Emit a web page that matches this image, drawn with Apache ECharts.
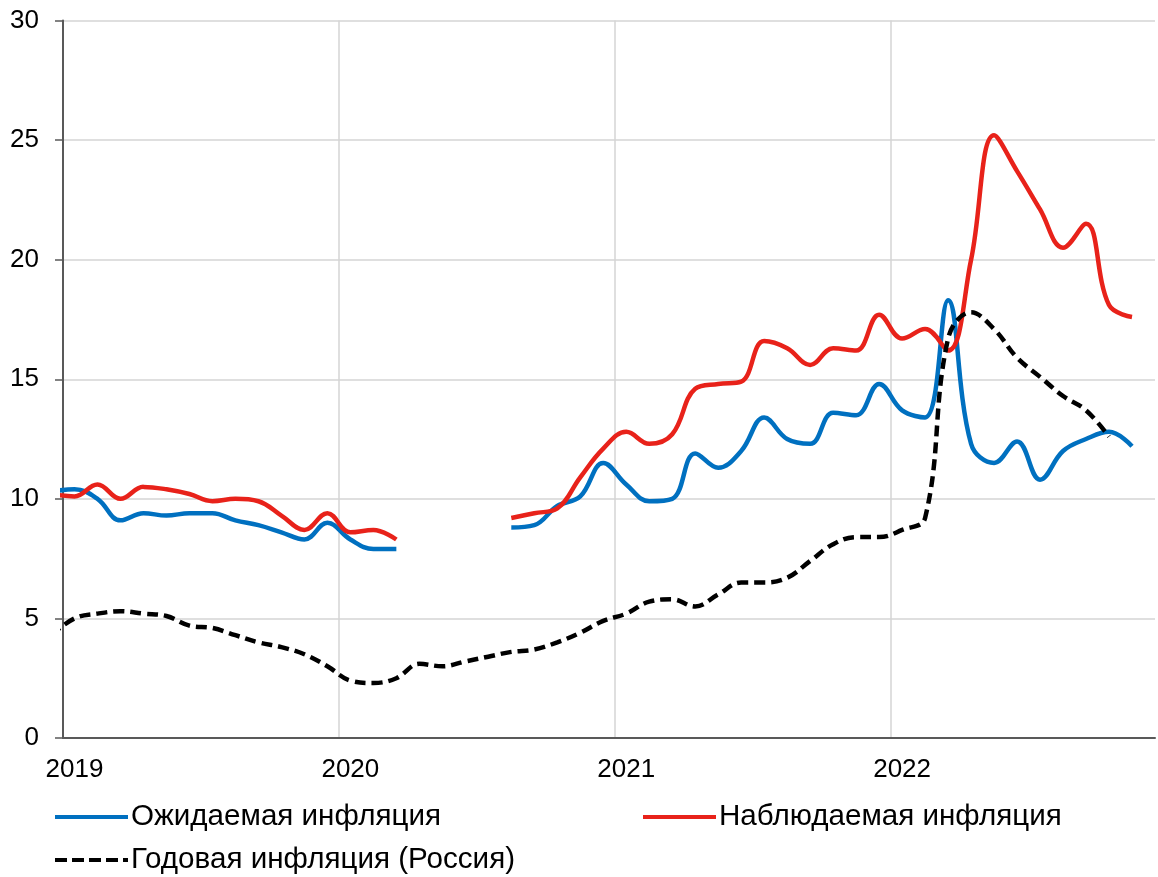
<!DOCTYPE html>
<html lang="ru">
<head>
    <meta charset="UTF-8">
    <script src="https://cdn.jsdelivr.net/npm/echarts@6/dist/echarts.min.js"></script>
    <title>Инфляция</title>
    <style>
        html, body { margin: 0; padding: 0; background: #fff; }
        #main { width: 1158px; height: 877px; }
    </style>
</head>
<body>
<div id="main"></div>

<script>
    // месяцы: дек 2018 - ноя 2022 (точки в середине месяца)
    var months = [
        '2018-12',
        '2019-01', '2019-02', '2019-03', '2019-04', '2019-05', '2019-06',
        '2019-07', '2019-08', '2019-09', '2019-10', '2019-11', '2019-12',
        '2020-01', '2020-02', '2020-03', '2020-04', '2020-05', '2020-06',
        '2020-07', '2020-08', '2020-09', '2020-10', '2020-11', '2020-12',
        '2021-01', '2021-02', '2021-03', '2021-04', '2021-05', '2021-06',
        '2021-07', '2021-08', '2021-09', '2021-10', '2021-11', '2021-12',
        '2022-01', '2022-02', '2022-03', '2022-04', '2022-05', '2022-06',
        '2022-07', '2022-08', '2022-09', '2022-10', '2022-11'
    ];

    var expected = [
        10.3,
        10.4, 10.0, 9.1, 9.4, 9.3, 9.4,
        9.4, 9.1, 8.9, 8.6, 8.3, 9.0,
        8.3, 7.9, 7.9, null, null, null,
        null, 8.8, 8.9, 9.7, 10.1, 11.5,
        10.6, 9.9, 10.0, 11.9, 11.3, 12.0,
        13.4, 12.5, 12.3, 13.6, 13.5, 14.8,
        13.7, 13.4, 18.3, 12.3, 11.5, 12.4,
        10.8, 12.0, 12.5, 12.8, 12.2
    ];

    var observed = [
        10.2,
        10.1, 10.6, 10.0, 10.5, 10.4, 10.2,
        9.9, 10.0, 9.9, 9.3, 8.7, 9.4,
        8.6, 8.7, 8.3, null, null, null,
        null, 9.2, 9.4, 9.6, 10.9, 12.1,
        12.8, 12.3, 12.7, 14.6, 14.8, 14.9,
        16.6, 16.3, 15.6, 16.3, 16.2, 17.7,
        16.7, 17.1, 16.2, 20.0, 25.2, 23.7,
        22.1, 20.5, 21.5, 18.1, 17.6
    ];

    var annual = [
        4.3,
        5.0, 5.2, 5.3, 5.2, 5.1, 4.7,
        4.6, 4.3, 4.0, 3.8, 3.5, 3.0,
        2.4, 2.3, 2.5, 3.1, 3.0, 3.2,
        3.4, 3.6, 3.7, 4.0, 4.4, 4.9,
        5.2, 5.7, 5.8, 5.5, 6.0, 6.5,
        6.5, 6.7, 7.4, 8.1, 8.4, 8.4,
        8.7, 9.2, 16.7, 17.8, 17.1, 15.9,
        15.1, 14.3, 13.7, 12.6, null
    ];

    var yearLabels = ['2019', '2020', '2021', '2022'];

    var names = ['Ожидаемая инфляция', 'Наблюдаемая инфляция', 'Годовая инфляция (Россия)'];

    // позиция месяца на оси: месяцы от янв 2019, середина месяца
    function monthPos(s) {
        var p = s.split('-');
        return (parseInt(p[0], 10) - 2019) * 12 + (parseInt(p[1], 10) - 1) + 0.5;
    }

    function toPoints(values) {
        return months.map(function (m, i) {
            return [monthPos(m), values[i]];
        });
    }

    var font = '"Liberation Sans", Arial, sans-serif';

    // значки легенды: сплошная и пунктирная линии
    var solidIcon = 'path://M0,0h73v4h-73z';
    var dashIcon = 'path://M0,0h12v4h-12zM17,0h12v4h-12zM34,0h12v4h-12zM51,0h12v4h-12zM68,0h5v4h-5z';

    function legendAt(name, icon, left, top) {
        return {
            data: [{ name: name, icon: icon }],
            left: left, top: top,
            padding: 0,
            itemWidth: 73, itemHeight: 4,
            textStyle: { fontFamily: font, fontSize: 29.6, color: '#000', padding: [0, 0, 0, -2] }
        };
    }

    var myChart = echarts.init(document.getElementById('main'));

    var option = {
        animation: false,
        backgroundColor: '#fff',
        textStyle: { fontFamily: font, color: '#000' },
        grid: {
            left: 63,
            right: 3,
            top: 20.5,
            bottom: 139
        },
        legend: [
            legendAt(names[0], solidIcon, 55, 802),
            legendAt(names[1], solidIcon, 643, 802),
            legendAt(names[2], dashIcon, 55, 845)
        ],
        xAxis: {
            type: 'value',
            min: 0,
            max: 47.5,
            interval: 12,
            axisLine: { show: true, onZero: false, lineStyle: { color: '#595959', width: 2 } },
            axisTick: { show: false },
            axisLabel: {
                fontFamily: font,
                fontSize: 26,
                color: '#000',
                margin: 19,
                padding: [0, 0, 0, 23],
                showMaxLabel: false,
                formatter: function (v) {
                    return v % 12 === 0 ? yearLabels[v / 12] : '';
                }
            },
            splitLine: {
                show: true,
                showMinLine: false,
                showMaxLine: false,
                lineStyle: { color: '#D4D4D4', width: 1.5 }
            }
        },
        yAxis: {
            type: 'value',
            min: 0,
            max: 30,
            interval: 5,
            axisLine: { show: true, lineStyle: { color: '#595959', width: 2 } },
            axisTick: { show: true, length: 8, lineStyle: { color: '#595959', width: 1.5 } },
            axisLabel: { fontFamily: font, fontSize: 26, color: '#000', margin: 24 },
            splitLine: { lineStyle: { color: '#D4D4D4', width: 1.5 } }
        },
        series: [
            {
                name: names[0],
                type: 'line',
                data: toPoints(expected),
                smooth: 0.4,
                symbol: 'none',
                connectNulls: false,
                clip: true,
                lineStyle: { color: '#0070C0', width: 4.5 },
                itemStyle: { color: '#0070C0' },
                z: 3
            },
            {
                name: names[1],
                type: 'line',
                data: toPoints(observed),
                smooth: 0.4,
                symbol: 'none',
                connectNulls: false,
                clip: true,
                lineStyle: { color: '#E8221A', width: 4.5 },
                itemStyle: { color: '#E8221A' },
                z: 4
            },
            {
                name: names[2],
                type: 'line',
                data: toPoints(annual),
                smooth: 0.4,
                symbol: 'none',
                connectNulls: false,
                clip: true,
                lineStyle: { color: '#000', width: 4.5, type: [11, 6] },
                itemStyle: { color: '#000' },
                z: 5
            }
        ]
    };

    myChart.setOption(option);
</script>
</body>
</html>
